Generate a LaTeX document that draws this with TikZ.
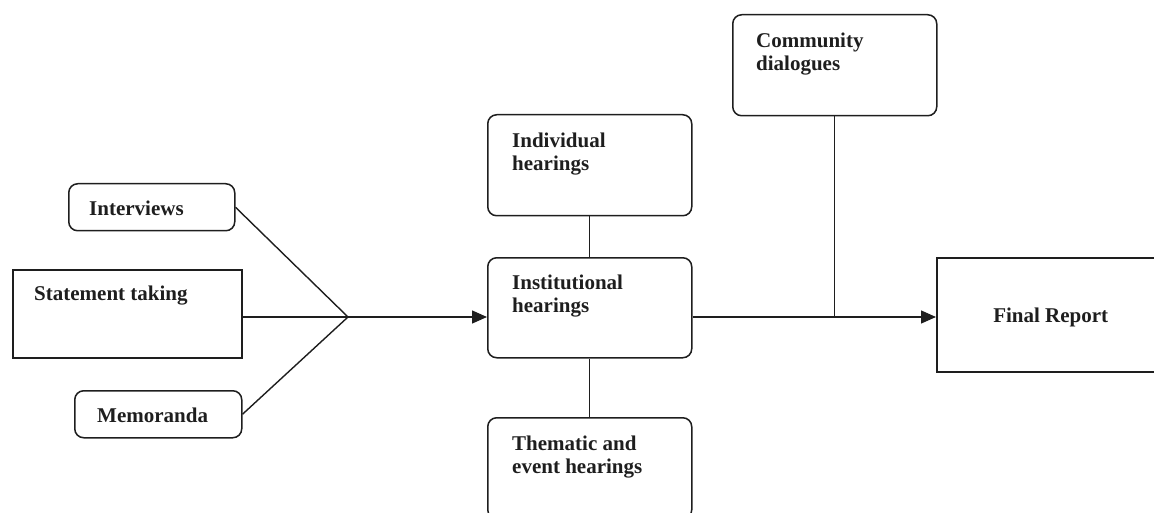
\documentclass[tikz,border=0pt]{standalone}
\usepackage{fontspec}
\setmainfont{Liberation Serif}
\usetikzlibrary{arrows.meta}
\definecolor{ink}{HTML}{1E1E1E}
\tikzset{
  txt/.style={font=\fontsize{21}{23}\selectfont\bfseries, text=ink, inner sep=0pt, align=left},
  frame/.style={draw=ink, line width=1.5pt, inner sep=0pt, anchor=north west},
  rbox/.style={frame, rounded corners=9pt},
  sbox/.style={frame},
  conn/.style={draw=ink, line width=1.4pt},
  arr/.style={conn, -{Triangle[length=15pt,width=13pt]}}
}
\begin{document}
\begin{tikzpicture}[x=1pt,y=-1pt]
\useasboundingbox (0,0) rectangle (1154,513);
\clip (0,0) rectangle (1154,513);
% left column
\node[rbox, minimum width=166pt, minimum height=47pt,
  label={[txt, anchor=north west, xshift=21pt, yshift=-18pt]north west:Interviews}] (intv) at (68,183) {};
\node[sbox, minimum width=229pt, minimum height=88pt,
  label={[txt, anchor=north west, xshift=22pt, yshift=-17pt]north west:Statement taking}] (stmt) at (12,269) {};
\node[rbox, minimum width=167pt, minimum height=47pt,
  label={[txt, anchor=north west, xshift=23pt, yshift=-18pt]north west:Memoranda}] (memo) at (74,390) {};
% centre column
\node[rbox, minimum width=204pt, minimum height=101pt,
  label={[txt, anchor=north west, xshift=25pt, yshift=-19pt]north west:Individual\\hearings}] (ind) at (487,114) {};
\node[rbox, minimum width=204pt, minimum height=100pt,
  label={[txt, anchor=north west, xshift=25pt, yshift=-18pt]north west:Institutional\\hearings}] (inst) at (487,257) {};
\node[rbox, minimum width=204pt, minimum height=101pt,
  label={[txt, anchor=north west, xshift=25pt, yshift=-19pt]north west:Thematic and\\event hearings}] (them) at (487,417) {};
% right
\node[rbox, minimum width=204pt, minimum height=101pt,
  label={[txt, anchor=north west, xshift=24pt, yshift=-19pt]north west:Community\\dialogues}] (comm) at (732,14) {};
\node[sbox, minimum width=230pt, minimum height=114pt,
  label={[txt, anchor=center, xshift=-1pt, yshift=-3pt]center:Final Report}] (fin) at (936,257) {};
% connectors
\coordinate (j) at (348,317);
\draw[conn] (intv.east) -- (j);
\draw[conn] (stmt.east |- j) -- (j);
\draw[conn] (memo.east) -- (j);
\draw[arr] (j) -- (inst.west |- j);
\draw[conn] (ind.south) -- (inst.north);
\draw[conn] (inst.south) -- (them.north);
\draw[arr] (inst.east |- j) -- (fin.west |- j);
\draw[conn] (comm.south) -- (comm.south |- j);
\end{tikzpicture}
\end{document}
